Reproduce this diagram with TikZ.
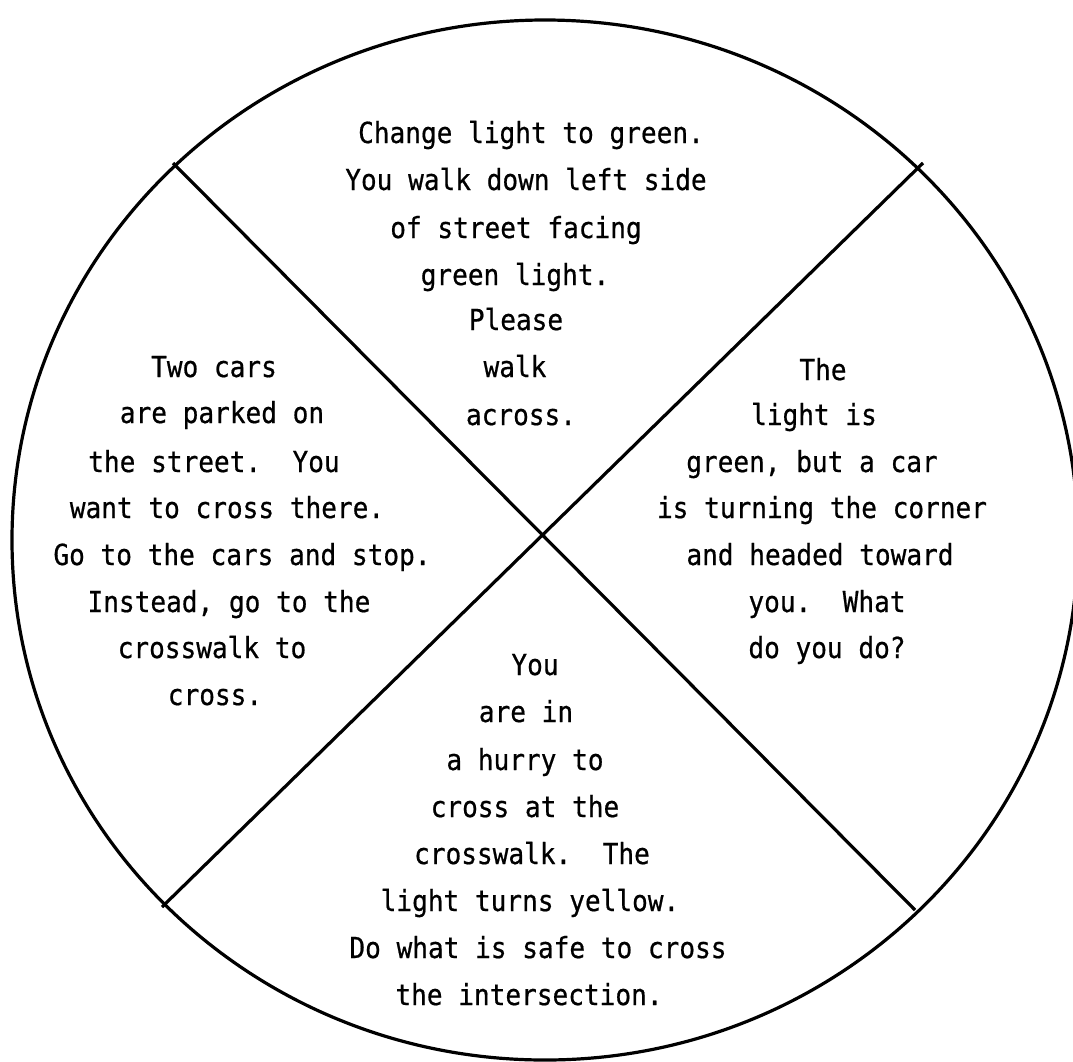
\documentclass[tikz,border=0pt]{standalone}
\usepackage{fontspec}
\newfontfamily\cardfont{DejaVu Sans Mono}[FakeStretch=0.9,FakeBold=0.6]
\tikzset{
  rim/.style={line width=3.2pt},
  cardline/.style={anchor=base,inner sep=0pt,font=\cardfont\fontsize{29}{32}\selectfont},
}
\begin{document}
\begin{tikzpicture}[x=1pt,y=-1pt]
   \useasboundingbox (0,0) rectangle (1073,1061);
   \fill[white] (0,0) rectangle (1073,1061);
   % the wheel and its two diagonals
   \draw[rim] (545,540) ellipse [x radius=533, y radius=520];
   \coordinate (nw) at (173,163);
   \coordinate (ne) at (923,163);
   \coordinate (sw) at (162,907);
   \coordinate (se) at (915,910);
   \draw[rim] (nw) -- (se);
   \draw[rim] (ne) -- (sw);
   % top
   \foreach \n/\x/\y/\t in
     {1/531/143/Change light to green.,
      2/526/190/You walk down left side,
      3/516/238/of street facing,
      4/515/285/green light.,
      5/516/330/Please,
      6/515/377/walk,
      7/521/425/across.}
     \node[cardline] (top-\n) at (\x,\y) {\t};
   % left
   \foreach \n/\x/\y/\t in
     {1/214/377/Two cars,
      2/222/423/are parked on,
      3/214/472/the street.\ \ You,
      4/227/518/want to cross there.,
      5/242/565/Go to the cars and stop.,
      6/229/612/{Instead, go to the},
      7/212/658/crosswalk to,
      8/215/705/cross.}
     \node[cardline] (left-\n) at (\x,\y) {\t};
   % right
   \foreach \n/\x/\y/\t in
     {1/823/380/The,
      2/814/425/light is,
      3/812/472/{green, but a car},
      4/822/518/is turning the corner,
      5/820/565/and headed toward,
      6/827/612/you.\ \ What,
      7/827/658/do you do?}
     \node[cardline] (right-\n) at (\x,\y) {\t};
   % bottom
   \foreach \n/\x/\y/\t in
     {1/535/675/You,
      2/526/722/are in,
      3/525/770/a hurry to,
      4/525/817/cross at the,
      5/532/864/crosswalk.\ \ The,
      6/530/911/light turns yellow.,
      7/538/958/Do what is safe to cross,
      8/529/1005/the intersection.}
     \node[cardline] (bottom-\n) at (\x,\y) {\t};
\end{tikzpicture}
\end{document}
